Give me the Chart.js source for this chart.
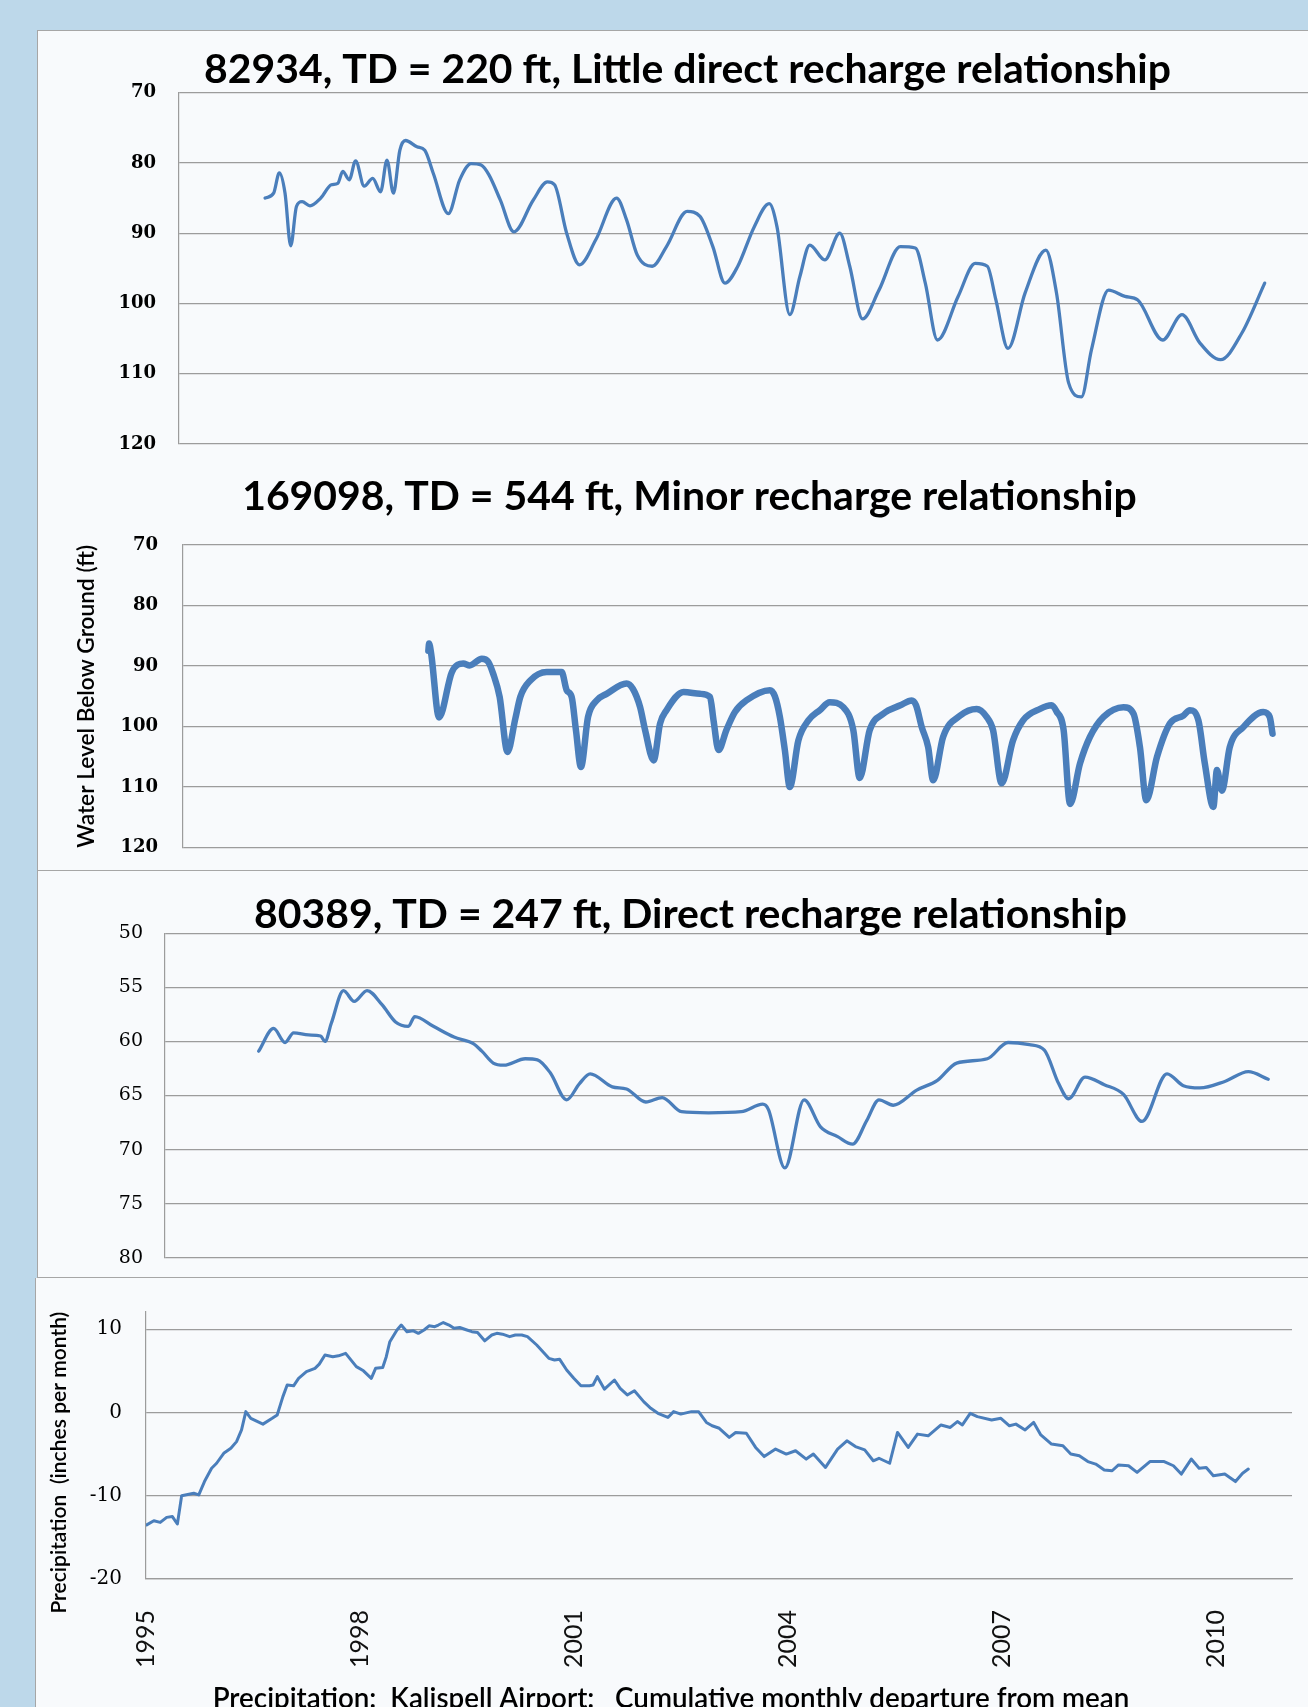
<!DOCTYPE html>
<html lang="en">
<head>
<meta charset="UTF-8">
<title>Water levels and Kalispell precipitation</title>
<script src="https://cdn.jsdelivr.net/npm/chart.js"></script>
<style>
  html, body { margin: 0; padding: 0; }
  body { width: 1308px; height: 1707px; overflow: hidden; position: relative; background: #bdd8ea; }
  .panel { position: absolute; background: #f8fafc; border: 0 solid #a6a6a6; }
  canvas { position: absolute; }
</style>
</head>
<body>
<div class="panel" style="left:37px;top:30px;width:1300px;height:430px;border-left-width:1px;border-top-width:1px"></div>
<div class="panel" style="left:37px;top:461px;width:1300px;height:409px;border-left-width:1px;border-bottom-width:1px"></div>
<div class="panel" style="left:37px;top:871px;width:1300px;height:406px;border-left-width:1px;border-bottom-width:1px"></div>
<div class="panel" style="left:35px;top:1278px;width:1300px;height:440px;border-left-width:1px"></div>

<canvas id="well82934"></canvas>
<canvas id="well169098"></canvas>
<canvas id="well80389"></canvas>
<canvas id="precip"></canvas>

<script>
// ---- data (decimal years, depth to water in ft) ----
const p1Years = [
  1996.67, 1996.79, 1996.87, 1996.95, 1997.03, 1997.11, 1997.19, 1997.30, 1997.45, 1997.60,
  1997.69, 1997.76, 1997.85, 1997.94, 1998.06, 1998.18, 1998.29, 1998.38, 1998.47, 1998.56,
  1998.64, 1998.80, 1998.91, 1999.03, 1999.24, 1999.40, 1999.56, 1999.70, 1999.81, 1999.97,
  2000.16, 2000.43, 2000.63, 2000.73, 2000.90, 2001.08, 2001.31, 2001.60, 2001.74, 2001.89,
  2002.10, 2002.30, 2002.59, 2002.77, 2002.95, 2003.12, 2003.30, 2003.53, 2003.74, 2003.85,
  2004.03, 2004.17, 2004.31, 2004.52, 2004.73, 2004.87, 2005.05, 2005.28, 2005.58, 2005.79,
  2005.93, 2006.10, 2006.39, 2006.63, 2006.80, 2006.92, 2007.09, 2007.33, 2007.62, 2007.77,
  2007.94, 2008.12, 2008.26, 2008.50, 2008.73, 2008.91, 2009.26, 2009.53, 2009.78, 2010.07,
  2010.37, 2010.69
];
const p1Depth = [
  85.0, 84.3, 81.4, 84.3, 91.8, 86.2, 85.5, 86.1, 85.0, 83.1,
  82.9, 81.2, 82.4, 79.7, 83.3, 82.2, 84.1, 79.6, 84.3, 78.2,
  76.8, 77.7, 78.2, 81.5, 87.2, 82.4, 80.1, 80.3, 81.7, 85.3,
  89.8, 85.3, 82.7, 83.1, 90.0, 94.5, 90.9, 85.0, 88.1, 93.1,
  94.7, 91.9, 86.9, 87.6, 91.9, 97.1, 94.7, 89.1, 85.8, 89.1,
  101.6, 96.2, 91.7, 93.8, 90.0, 94.7, 102.2, 98.1, 91.9, 92.1,
  97.1, 105.2, 99.0, 94.3, 94.7, 99.5, 106.4, 98.5, 92.4, 98.5,
  111.3, 113.3, 106.6, 98.1, 99.0, 99.5, 105.2, 101.6, 105.6, 108.0,
  104.2, 97.1
];

const p2Years = [
  1998.96, 1998.97, 1999.00, 1999.11, 1999.29, 1999.45, 1999.54, 1999.71, 1999.80, 1999.87,
  1999.96, 2000.07, 2000.18, 2000.25, 2000.39, 2000.62, 2000.83, 2000.90, 2000.97, 2001.03,
  2001.10, 2001.20, 2001.32, 2001.46, 2001.74, 2001.83, 2001.93, 2002.00, 2002.12, 2002.21,
  2002.30, 2002.54, 2002.77, 2002.91, 2002.96, 2003.03, 2003.14, 2003.26, 2003.42, 2003.75,
  2003.82, 2003.89, 2003.96, 2004.03, 2004.15, 2004.29, 2004.45, 2004.59, 2004.78, 2004.92,
  2005.01, 2005.15, 2005.34, 2005.58, 2005.74, 2005.80, 2005.88, 2005.97, 2006.04, 2006.18,
  2006.42, 2006.65, 2006.79, 2006.88, 2007.00, 2007.16, 2007.30, 2007.54, 2007.70, 2007.77,
  2007.87, 2007.96, 2008.10, 2008.24, 2008.43, 2008.71, 2008.85, 2008.94, 2009.03, 2009.18,
  2009.36, 2009.55, 2009.64, 2009.76, 2009.85, 2009.97, 2010.02, 2010.09, 2010.20, 2010.39,
  2010.67, 2010.76, 2010.80
];
const p2Depth = [
  87.5, 86.3, 88.0, 98.5, 91.0, 89.6, 89.9, 88.8, 89.3, 91.3,
  95.1, 104.2, 98.7, 95.1, 92.4, 91.0, 91.0, 94.0, 95.1, 100.6,
  106.7, 98.4, 95.7, 94.6, 92.9, 93.8, 96.8, 100.6, 105.6, 99.5,
  97.3, 94.3, 94.6, 95.1, 99.0, 103.9, 100.6, 97.6, 95.7, 94.0,
  95.0, 98.4, 103.9, 110.0, 102.3, 99.0, 97.3, 96.0, 96.8, 100.6,
  108.5, 100.6, 97.9, 96.5, 95.7, 96.5, 100.1, 103.4, 108.9, 101.7,
  98.2, 97.1, 98.4, 100.6, 109.4, 102.3, 99.0, 97.1, 96.5, 97.5,
  100.6, 112.8, 106.1, 101.7, 98.4, 96.8, 97.9, 103.4, 112.2, 105.0,
  99.5, 98.2, 97.3, 99.0, 106.1, 113.3, 107.2, 110.6, 103.4, 100.1,
  97.6, 98.4, 101.2
];

const p3Years = [
  1996.58, 1996.79, 1996.95, 1997.07, 1997.28, 1997.45, 1997.51, 1997.60, 1997.77, 1997.92,
  1998.10, 1998.31, 1998.50, 1998.68, 1998.77, 1999.03, 1999.32, 1999.59, 1999.71, 1999.87,
  2000.02, 2000.32, 2000.49, 2000.67, 2000.90, 2001.08, 2001.23, 2001.54, 2001.74, 2002.01,
  2002.24, 2002.51, 2002.89, 2003.35, 2003.65, 2003.73, 2003.96, 2004.23, 2004.46, 2004.70,
  2004.91, 2005.11, 2005.28, 2005.48, 2005.81, 2006.10, 2006.37, 2006.80, 2007.09, 2007.39,
  2007.60, 2007.80, 2007.94, 2008.17, 2008.44, 2008.71, 2008.97, 2009.32, 2009.55, 2009.78,
  2010.13, 2010.46, 2010.74
];
const p3Depth = [
  60.9, 58.8, 60.1, 59.2, 59.4, 59.5, 60.0, 58.3, 55.3, 56.3,
  55.3, 56.6, 58.2, 58.6, 57.7, 58.6, 59.6, 60.2, 60.9, 62.0,
  62.2, 61.6, 61.7, 62.9, 65.4, 63.9, 63.0, 64.2, 64.4, 65.6,
  65.2, 66.5, 66.6, 66.5, 65.8, 66.3, 71.7, 65.4, 67.9, 68.8,
  69.5, 67.3, 65.4, 65.9, 64.5, 63.6, 62.0, 61.6, 60.1, 60.3,
  60.8, 63.9, 65.3, 63.3, 64.0, 64.9, 67.4, 63.0, 64.1, 64.3,
  63.7, 62.8, 63.5
];

// cumulative monthly departure from mean, inches
const precipYears = [
  1995.01, 1995.11, 1995.20, 1995.29, 1995.37, 1995.44, 1995.50, 1995.67, 1995.74, 1995.82,
  1995.92, 1995.99, 1996.09, 1996.19, 1996.27, 1996.34, 1996.40, 1996.47, 1996.64, 1996.77,
  1996.84, 1996.92, 1996.98, 1997.07, 1997.14, 1997.25, 1997.37, 1997.43, 1997.51, 1997.62,
  1997.70, 1997.80, 1997.95, 1998.05, 1998.16, 1998.22, 1998.32, 1998.37, 1998.42, 1998.52,
  1998.58, 1998.66, 1998.75, 1998.82, 1998.90, 1998.97, 1999.05, 1999.10, 1999.17, 1999.25,
  1999.32, 1999.40, 1999.50, 1999.57, 1999.65, 1999.75, 1999.85, 1999.92, 2000.00, 2000.10,
  2000.18, 2000.27, 2000.35, 2000.48, 2000.65, 2000.73, 2000.80, 2000.90, 2001.00, 2001.10,
  2001.22, 2001.27, 2001.33, 2001.43, 2001.57, 2001.65, 2001.75, 2001.85, 2001.98, 2002.08,
  2002.18, 2002.32, 2002.40, 2002.50, 2002.65, 2002.75, 2002.86, 2002.94, 2003.04, 2003.18,
  2003.27, 2003.42, 2003.55, 2003.67, 2003.83, 2003.98, 2004.11, 2004.26, 2004.36, 2004.53,
  2004.70, 2004.83, 2004.95, 2005.08, 2005.20, 2005.28, 2005.43, 2005.54, 2005.69, 2005.82,
  2005.97, 2006.15, 2006.28, 2006.38, 2006.45, 2006.56, 2006.66, 2006.86, 2006.99, 2007.11,
  2007.20, 2007.33, 2007.45, 2007.55, 2007.70, 2007.86, 2007.97, 2008.09, 2008.21, 2008.32,
  2008.44, 2008.55, 2008.64, 2008.78, 2008.90, 2009.08, 2009.28, 2009.41, 2009.52, 2009.66,
  2009.77, 2009.87, 2009.97, 2010.13, 2010.28, 2010.38, 2010.46
];
const precipValues = [
  -13.5, -13.0, -13.2, -12.6, -12.5, -13.4, -10.0, -9.7, -9.9, -8.3,
  -6.7, -6.1, -4.9, -4.3, -3.5, -2.1, 0.1, -0.7, -1.4, -0.7,
  -0.3, 1.9, 3.3, 3.2, 4.1, 4.9, 5.3, 5.8, 6.9, 6.7,
  6.8, 7.1, 5.5, 5.0, 4.1, 5.3, 5.4, 6.7, 8.5, 9.9,
  10.5, 9.7, 9.8, 9.5, 9.9, 10.4, 10.3, 10.5, 10.8, 10.5,
  10.1, 10.2, 9.9, 9.7, 9.6, 8.6, 9.3, 9.5, 9.4, 9.1,
  9.3, 9.3, 9.1, 8.1, 6.5, 6.3, 6.4, 5.1, 4.1, 3.2,
  3.2, 3.3, 4.3, 2.8, 3.9, 2.9, 2.1, 2.6, 1.3, 0.5,
  -0.1, -0.6, 0.1, -0.2, 0.1, 0.1, -1.2, -1.6, -1.9, -3.0,
  -2.4, -2.5, -4.2, -5.3, -4.4, -5.0, -4.6, -5.6, -5.0, -6.6,
  -4.4, -3.4, -4.1, -4.5, -5.8, -5.5, -6.1, -2.4, -4.2, -2.6,
  -2.8, -1.5, -1.8, -1.1, -1.5, -0.1, -0.5, -0.9, -0.7, -1.6,
  -1.4, -2.1, -1.2, -2.7, -3.8, -4.0, -5.0, -5.2, -5.9, -6.2,
  -6.9, -7.0, -6.3, -6.4, -7.2, -5.9, -5.9, -6.4, -7.4, -5.6,
  -6.7, -6.6, -7.6, -7.4, -8.3, -7.3, -6.8
];

const yearTicks = [1995, 1998, 2001, 2004, 2007, 2010];
const precipTicks = [-20, -10, 0, 10];

// ---- shared layout: all four panels share one time axis ----
const YEAR0 = 1995, X_AT_YEAR0 = 146, PX_PER_YEAR = 71.3;
const yearAt = px => YEAR0 + (px - X_AT_YEAR0) / PX_PER_YEAR;

const BLUE = '#4a7ebb';
const GRID = '#9c9c9c';
const NONE = 'rgba(0,0,0,0)';
const LABEL_WEIGHT = 600;   // axis titles and caption

Chart.defaults.animation = false;
Chart.defaults.responsive = false;
Chart.defaults.plugins.legend.display = false;
Chart.defaults.plugins.tooltip.enabled = false;
Chart.defaults.color = '#000';

// font size that makes a text span a given width
const meas = document.createElement('canvas').getContext('2d');
function fitSize(text, weight, family, width) {
  meas.font = weight + ' 100px ' + family;
  return 100 * width / meas.measureText(text).width;
}

function pts(xs, ys) {
  return xs.map((x, i) => ({ x: x, y: ys[i] }));
}

function placeCanvas(id, left, top, width, height) {
  const c = document.getElementById(id);
  c.width = width; c.height = height;
  c.style.left = left + 'px'; c.style.top = top + 'px';
  return c;
}

// gap between label and axis is done with an invisible tick mark,
// ticks.padding would also push the plot bottom up
function gridWithGap(gap) {
  return { color: GRID, lineWidth: 1.2, drawTicks: true, tickLength: gap, tickColor: NONE };
}

// one water level panel (depth axis reversed)
function depthPanel(p, xs, ys) {
  const canvas = placeCanvas(p.id, p.left, p.top, p.width, p.height);
  const ts = fitSize(p.title, 'bold', 'Lato', p.titleWidth);
  const padTop = p.titleY - 1 - p.top - 0.6 * ts;
  const padBottom = p.plotTop - p.top - 1.2 * ts - padTop;

  const yAxis = {
    reverse: true,
    min: p.min, max: p.max,
    ticks: { stepSize: p.step, padding: 0, color: '#000', font: p.tickFont },
    grid: gridWithGap(p.plotLeft - p.labelRight),
    border: { color: GRID, width: 1.2 },
    afterFit: s => { s.width = p.plotLeft - p.left; }
  };
  if (p.yTitle) {
    const ys2 = fitSize(p.yTitle.text, LABEL_WEIGHT, 'Lato', p.yTitle.width);
    yAxis.title = {
      display: true, text: p.yTitle.text, color: '#000',
      font: { family: 'Lato', weight: LABEL_WEIGHT, size: ys2, lineHeight: 1.2 },
      padding: { top: p.yTitle.x - p.left - 0.6 * ys2, bottom: 0 }
    };
  }

  return new Chart(canvas, {
    type: 'line',
    data: {
      datasets: [{
        data: pts(xs, ys),
        borderColor: BLUE,
        borderWidth: p.lineWidth,
        pointRadius: 0,
        cubicInterpolationMode: 'monotone',
        borderJoinStyle: 'round',
        borderCapStyle: 'round'
      }]
    },
    options: {
      layout: { padding: { top: 0, left: 0, right: 0, bottom: p.top + p.height - p.plotBottom } },
      plugins: {
        title: {
          display: true, text: p.title, color: '#000',
          font: { family: 'Lato', weight: 'bold', size: ts, lineHeight: 1.2 },
          padding: { top: padTop, bottom: padBottom }
        }
      },
      scales: {
        x: { type: 'linear', display: false, min: yearAt(p.plotLeft), max: yearAt(p.left + p.width) },
        y: yAxis
      }
    }
  });
}

depthPanel({
  id: 'well82934', left: 38, top: 31, width: 1299, height: 429,
  plotLeft: 179, plotTop: 92.7, plotBottom: 444, labelRight: 156,
  title: '82934, TD = 220 ft, Little direct recharge relationship', titleWidth: 967, titleY: 71,
  min: 70, max: 120, step: 10,
  tickFont: { family: "'DejaVu Serif', serif", weight: 'bold', size: 18 },
  lineWidth: 3.3
}, p1Years, p1Depth);

depthPanel({
  id: 'well169098', left: 38, top: 461, width: 1303, height: 409,
  plotLeft: 183, plotTop: 545, plotBottom: 847.5, labelRight: 158,
  title: '169098, TD = 544 ft, Minor recharge relationship', titleWidth: 895, titleY: 497.5,
  min: 70, max: 120, step: 10,
  tickFont: { family: "'DejaVu Serif', serif", weight: 'bold', size: 18 },
  yTitle: { text: 'Water Level Below Ground (ft)', width: 303, x: 87 },
  lineWidth: 6.5
}, p2Years, p2Depth);

depthPanel({
  id: 'well80389', left: 38, top: 872, width: 1305, height: 405,
  plotLeft: 165, plotTop: 933.3, plotBottom: 1257.7, labelRight: 143,
  title: '80389, TD = 247 ft, Direct recharge relationship', titleWidth: 873, titleY: 915.8,
  min: 50, max: 80, step: 5,
  tickFont: { family: "'DejaVu Serif', serif", size: 19 },
  lineWidth: 3.3
}, p3Years, p3Depth);

// ---- precipitation panel ----
(function () {
  const left = 36, top = 1279, width = 1270, height = 441;
  const plotLeft = 146, plotRight = 1292, plotTop = 1311.7, plotBottom = 1579;
  const canvas = placeCanvas('precip', left, top, width, height);

  const capText = 'Precipitation:  Kalispell Airport:   Cumulative monthly departure from mean';
  const cs = fitSize(capText, LABEL_WEIGHT, 'Lato', 917);
  const capPadBottom = top + height - 1699 - 0.6 * cs;
  const capBox = top + height - (plotBottom + 104);
  const capPadTop = capBox - 1.2 * cs - capPadBottom;

  const yText = 'Precipitation  (inches per month)';
  const ys = fitSize(yText, LABEL_WEIGHT, 'Lato', 302);

  new Chart(canvas, {
    type: 'line',
    data: {
      datasets: [{
        data: pts(precipYears, precipValues),
        borderColor: BLUE,
        borderWidth: 3,
        pointRadius: 0,
        tension: 0,
        borderJoinStyle: 'round',
        borderCapStyle: 'round'
      }]
    },
    options: {
      layout: { padding: { top: plotTop - top, left: 0, right: 0, bottom: 0 } },
      plugins: {
        title: {
          display: true, position: 'bottom', text: capText, color: '#000',
          font: { family: 'Lato', weight: LABEL_WEIGHT, size: cs, lineHeight: 1.2 },
          padding: { top: capPadTop, bottom: capPadBottom }
        }
      },
      scales: {
        x: {
          type: 'linear', min: YEAR0, max: yearAt(plotRight),
          afterBuildTicks: s => { s.ticks = yearTicks.map(v => ({ value: v })); },
          ticks: {
            autoSkip: false, minRotation: 90, maxRotation: 90, padding: 31,
            color: '#111', font: { family: 'Lato', size: 25 },
            callback: v => String(v)
          },
          grid: { display: false, drawTicks: false },
          border: { display: true, color: GRID, width: 1.2 },
          afterFit: s => { s.height = 104; }
        },
        y: {
          min: -20, max: 12.1,
          afterBuildTicks: s => { s.ticks = precipTicks.map(v => ({ value: v })); },
          ticks: { padding: 0, color: '#000', font: { family: "'DejaVu Serif', serif", size: 20 } },
          grid: gridWithGap(plotLeft - 122),
          border: { color: GRID, width: 1.2 },
          title: {
            display: true, text: yText, color: '#000', align: 'end',
            font: { family: 'Lato', weight: LABEL_WEIGHT, size: ys, lineHeight: 1.2 },
            padding: { top: 59 - left - 0.6 * ys, bottom: 0 }
          },
          afterFit: s => { s.width = plotLeft - left; }
        },
        // empty strip on the right: keeps the plot edge at 1292 while the
        // caption is centred on the whole panel
        rightGap: {
          type: 'linear', position: 'right', display: true,
          ticks: { display: false },
          grid: { display: false, drawTicks: false },
          border: { display: false },
          afterFit: s => { s.width = left + width - plotRight; }
        }
      }
    }
  });
})();
</script>
</body>
</html>
